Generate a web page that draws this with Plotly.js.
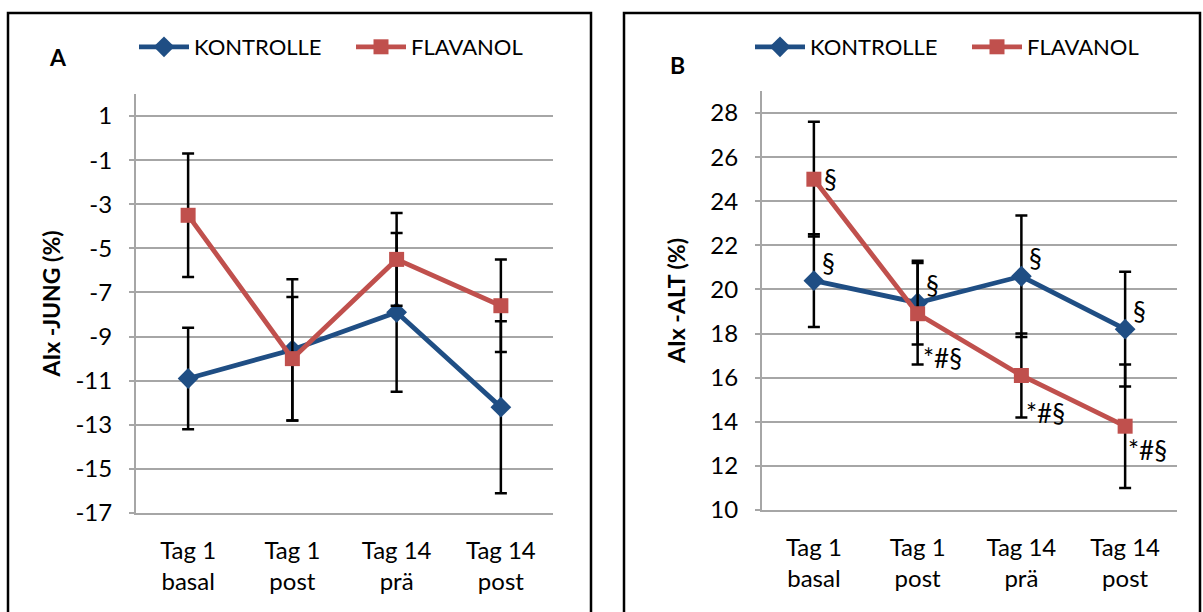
<!DOCTYPE html>
<html><head><meta charset="utf-8">
<script src="https://cdn.plot.ly/plotly-3.0.1.min.js"></script>
<style>html,body{margin:0;padding:0;background:#fff}#chart{width:1203px;height:612px}</style>
</head><body><div id="chart"></div>
<script>
// ---- data ----
const categories = ['Tag 1<br>basal', 'Tag 1<br>post', 'Tag 14<br>prä', 'Tag 14<br>post'];
const seriesNames = ['KONTROLLE', 'FLAVANOL'];
const jungKontrolle = [-10.9, -9.6, -7.9, -12.2];
const jungKontrolleErr = [2.3, 3.2, 3.6, 3.9];
const jungFlavanol = [-3.5, -10.0, -5.5, -7.6];
const jungFlavanolErr = [2.8, 2.8, 2.1, 2.1];
const altKontrolle = [20.4, 19.4, 20.6, 18.2];
const altKontrolleErr = [2.1, 1.9, 2.75, 2.6];
const altFlavanol = [25.0, 18.9, 16.1, 13.8];
const altFlavanolErr = [2.6, 2.3, 1.9, 2.8];
const altKontrolleMarks = ['§', '§', '§', '§'];
const altFlavanolMarks = ['§', '*#§', '*#§', '*#§'];
const jungTicks = [-17, -15, -13, -11, -9, -7, -5, -3, -1, 1];
const altTicks = [10, 12, 14, 16, 18, 20, 22, 24, 26, 28];
const panelLetters = ['A', 'B'];
const yTitles = ['AIx -JUNG (%)', 'AIx -ALT (%)'];

// ---- styles ----
const W = 1203, H = 612;
const px = v => v / W, py = v => 1 - v / H;
const FONT = 'Lato, "Open Sans", sans-serif';
const BLUE = '#1F4E84', RED = '#C0504D';
const GRID = '#A6A6A6';

function errStyle(arr) {
  return {type: 'data', array: arr, visible: true, color: '#000', thickness: 2.5, width: 6};
}
function lineTrace(y, err, name, color, symbol, size, xa, ya, legend) {
  return {
    type: 'scatter', mode: 'lines+markers', x: categories, y: y, name: name,
    xaxis: xa, yaxis: ya, legend: legend, showlegend: true,
    line: {color: color, width: 4.8},
    marker: {color: color, symbol: symbol, size: size, line: {width: 0}},
    error_y: errStyle(err), cliponaxis: false
  };
}

const traces = [
  lineTrace(jungKontrolle, jungKontrolleErr, seriesNames[0], BLUE, 'diamond', 16, 'x', 'y', 'legend'),
  lineTrace(jungFlavanol, jungFlavanolErr, seriesNames[1], RED, 'square', 15, 'x', 'y', 'legend'),
  lineTrace(altKontrolle, altKontrolleErr, seriesNames[0], BLUE, 'diamond', 16, 'x2', 'y2', 'legend2'),
  lineTrace(altFlavanol, altFlavanolErr, seriesNames[1], RED, 'square', 15, 'x2', 'y2', 'legend2')
];

function xaxis(dom, anchor) {
  return {
    domain: dom, anchor: anchor, type: 'category', range: [-0.5, 3.5],
    showline: true, linecolor: GRID, linewidth: 2, showgrid: false, zeroline: false,
    ticks: '', tickfont: {family: FONT, size: 24, color: '#000'}, ticklabelstandoff: 15,
    fixedrange: true
  };
}
function yaxis(dom, anchor, range, ticks, title, standoff) {
  return {
    domain: dom, anchor: anchor, range: range, tickvals: ticks, ticktext: ticks.map(String),
    showline: true, linecolor: GRID, linewidth: 2, showgrid: true, gridcolor: GRID, gridwidth: 2,
    zeroline: false, ticks: 'outside', ticklen: 5, tickcolor: GRID, tickwidth: 2,
    tickfont: {family: FONT, size: 24, color: '#000'}, ticklabelstandoff: 12,
    title: {text: title, font: {family: FONT, size: 23, color: '#000', weight: 'bold'}, standoff: standoff},
    fixedrange: true
  };
}

const annotations = [];
altKontrolleMarks.forEach((t, i) => annotations.push({
  x: categories[i], y: altKontrolle[i], xref: 'x2', yref: 'y2', text: t, showarrow: false,
  xanchor: 'left', yanchor: 'middle', xshift: 6, yshift: 18,
  font: {family: FONT, size: 26, color: '#000'}
}));
const flavShift = [[8, 0], [3, -44], [3, -38], [1, -24]];
altFlavanolMarks.forEach((t, i) => annotations.push({
  x: categories[i], y: altFlavanol[i], xref: 'x2', yref: 'y2', text: t, showarrow: false,
  xanchor: 'left', yanchor: 'middle', xshift: flavShift[i][0], yshift: flavShift[i][1],
  font: {family: FONT, size: 26, color: '#000'}
}));
annotations.push({x: px(58), y: py(57), xref: 'paper', yref: 'paper', text: '<b>' + panelLetters[0] + '</b>',
  showarrow: false, xanchor: 'center', yanchor: 'middle', font: {family: FONT, size: 23, color: '#000'}});
annotations.push({x: px(677), y: py(65), xref: 'paper', yref: 'paper', text: '<b>' + panelLetters[1] + '</b>',
  showarrow: false, xanchor: 'center', yanchor: 'middle', font: {family: FONT, size: 23, color: '#000'}});

const legendStyle = {orientation: 'h', xanchor: 'left', yanchor: 'middle',
  font: {family: FONT, size: 22, color: '#000'}, bgcolor: 'rgba(0,0,0,0)', itemwidth: 50,
  entrywidth: 152, entrywidthmode: 'pixels'};

const layout = {
  width: W, height: H, margin: {l: 0, r: 0, t: 0, b: 0},
  paper_bgcolor: '#fff', plot_bgcolor: '#fff',
  font: {family: FONT, color: '#000'},
  xaxis: xaxis([px(136), px(553)], 'y'),
  yaxis: yaxis([1 - 513 / H, 1 - 94 / H], 'x', [-17, 2], jungTicks, yTitles[0], 8),
  xaxis2: xaxis([px(762), px(1177)], 'y2'),
  yaxis2: yaxis([1 - 510 / H, 1 - 91 / H], 'x2', [10, 29], altTicks, yTitles[1], 18),
  legend: Object.assign({x: px(134), y: py(47)}, legendStyle),
  legend2: Object.assign({x: px(750), y: py(47)}, legendStyle),
  annotations: annotations,
  shapes: [
    {type: 'rect', xref: 'paper', yref: 'paper', x0: px(8), x1: px(591), y0: -0.05, y1: py(13),
      line: {color: '#000', width: 2.5}},
    {type: 'rect', xref: 'paper', yref: 'paper', x0: px(624), x1: px(1200), y0: -0.05, y1: py(13),
      line: {color: '#000', width: 2.5}}
  ]
};

Plotly.newPlot('chart', traces, layout, {displayModeBar: false, staticPlot: true});
</script>
</body></html>
